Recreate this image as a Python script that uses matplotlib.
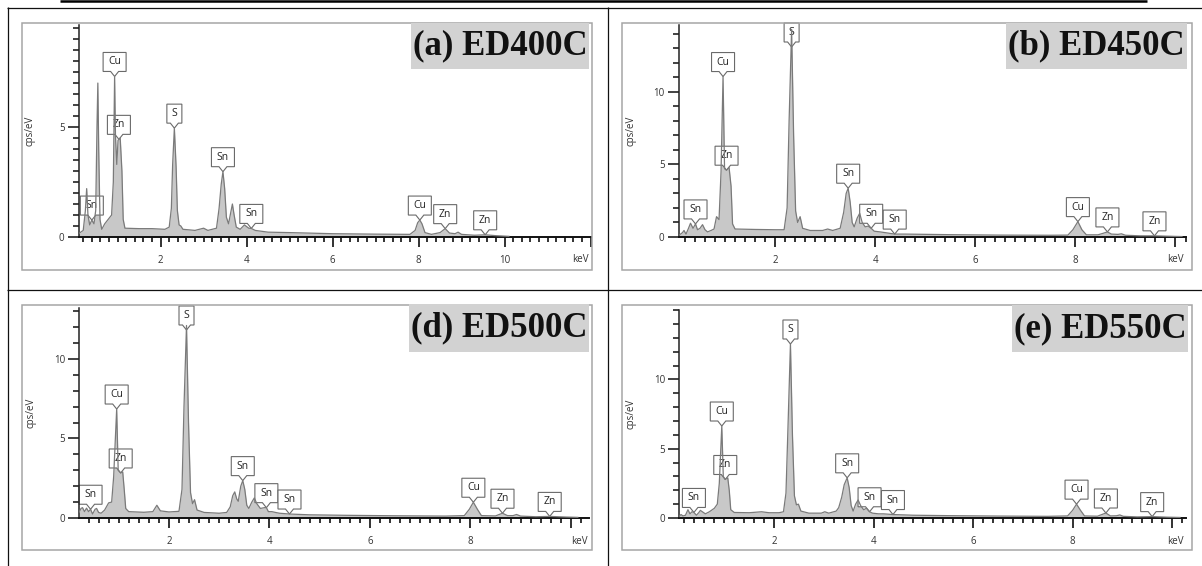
import numpy as np
import matplotlib
matplotlib.use("Agg")
import matplotlib.pyplot as plt
from matplotlib import transforms as mtrans
from matplotlib.patches import Rectangle, Polygon
from matplotlib.lines import Line2D
from matplotlib.ticker import MultipleLocator, FixedLocator, FuncFormatter

W, H = 1202, 566

# ---------------- data ----------------
titles = ["(a) ED400C", "(b) ED450C", "(d) ED500C", "(e) ED550C"]

energy_a = [0.09, 0.20, 0.25, 0.28, 0.31, 0.35, 0.40, 0.45, 0.49, 0.52, 0.54, 0.56, 0.59, 0.63, 0.70,
            0.78, 0.86, 0.90, 0.93, 0.95, 0.98, 1.01, 1.06, 1.10, 1.13, 1.17, 1.5, 1.8, 2.1, 2.20,
            2.25, 2.28, 2.32, 2.36, 2.39, 2.43, 2.47, 2.52, 2.8, 3.0, 3.1, 3.3, 3.36, 3.41, 3.45,
            3.49, 3.53, 3.58, 3.63, 3.67, 3.71, 3.76, 3.85, 3.95, 4.05, 4.11, 4.2, 4.5, 5.0, 6.0,
            7.0, 7.8, 7.92, 7.98, 8.03, 8.08, 8.15, 8.3, 8.50, 8.62, 8.72, 8.85, 8.92, 9.0, 9.3,
            9.55, 9.8, 10.1]
cps_a = [0.15, 0.3, 1.2, 2.2, 1.0, 0.55, 0.77, 0.6, 1.2, 5.0, 7.0, 4.0, 0.8, 0.35, 0.6,
         0.8, 1.0, 2.5, 7.3, 4.6, 3.3, 4.4, 4.5, 3.0, 0.8, 0.4, 0.38, 0.38, 0.35, 0.45,
         1.3, 3.3, 4.95, 3.2, 1.2, 0.55, 0.5, 0.35, 0.3, 0.4, 0.3, 0.4, 1.3, 2.4, 2.97,
         2.2, 0.9, 0.6, 1.1, 1.5, 1.0, 0.45, 0.35, 0.55, 0.4, 0.39, 0.3, 0.22, 0.2, 0.15,
         0.13, 0.12, 0.3, 0.65, 0.77, 0.6, 0.2, 0.12, 0.2, 0.38, 0.18, 0.15, 0.22, 0.12, 0.08,
         0.1, 0.06, 0.03]

energy_b = [0.07, 0.15, 0.18, 0.22, 0.27, 0.31, 0.36, 0.41, 0.45, 0.50, 0.55, 0.60, 0.65, 0.72, 0.78,
            0.83, 0.88, 0.92, 0.96, 0.99, 1.03, 1.08, 1.12, 1.15, 1.20, 1.6, 2.0, 2.18, 2.24, 2.28,
            2.33, 2.37, 2.41, 2.45, 2.50, 2.55, 2.7, 2.95, 3.05, 3.15, 3.3, 3.37, 3.42, 3.46, 3.50,
            3.54, 3.58, 3.64, 3.69, 3.74, 3.80, 3.86, 3.92, 3.98, 4.1, 4.2, 4.39, 4.6, 5.5, 6.5,
            7.5, 7.85, 7.95, 8.05, 8.13, 8.22, 8.45, 8.55, 8.64, 8.72, 8.85, 8.92, 9.0, 9.3, 9.58,
            9.9, 10.13]
cps_b = [0.1, 0.3, 0.45, 0.2, 0.6, 0.95, 0.6, 0.9, 0.5, 0.6, 0.85, 0.5, 0.35, 0.45, 0.55,
         1.4, 1.2, 4.5, 11.05, 4.7, 4.6, 4.8, 3.5, 0.9, 0.55, 0.52, 0.5, 0.5, 2.0, 8.0,
         14.3, 7.0, 1.8, 1.0, 1.4, 0.6, 0.45, 0.45, 0.55, 0.45, 0.6, 1.7, 3.0, 3.36, 2.4,
         1.0, 0.7, 1.3, 1.63, 1.0, 0.7, 0.75, 0.6, 0.4, 0.35, 0.3, 0.2, 0.2, 0.16, 0.13,
         0.12, 0.13, 0.5, 1.06, 0.5, 0.15, 0.15, 0.25, 0.35, 0.2, 0.18, 0.22, 0.12, 0.08, 0.08,
         0.05, 0.03]

energy_d = [0.21, 0.25, 0.28, 0.32, 0.36, 0.40, 0.44, 0.48, 0.53, 0.56, 0.60, 0.65, 0.72, 0.80, 0.86,
            0.90, 0.96, 0.99, 1.04, 1.08, 1.11, 1.14, 1.2, 1.5, 1.68, 1.76, 1.83, 2.0, 2.2, 2.26,
            2.30, 2.35, 2.39, 2.43, 2.47, 2.51, 2.56, 2.7, 3.0, 3.15, 3.22, 3.27, 3.31, 3.35, 3.38,
            3.43, 3.47, 3.51, 3.55, 3.59, 3.65, 3.70, 3.75, 3.82, 3.90, 3.94, 3.98, 4.05, 4.12, 4.20,
            4.40, 4.8, 5.5, 6.5, 7.5, 7.88, 7.98, 8.06, 8.14, 8.22, 8.5, 8.64, 8.74, 8.85, 8.92,
            9.0, 9.3, 9.58, 9.9, 10.14]
cps_d = [0.35, 0.6, 0.65, 0.4, 0.62, 0.4, 0.55, 0.25, 0.55, 0.6, 0.35, 0.3, 0.5, 0.95, 1.0,
         2.6, 6.85, 3.0, 2.83, 2.9, 1.8, 0.6, 0.4, 0.36, 0.4, 0.8, 0.45, 0.38, 0.42, 1.8,
         7.0, 12.1, 6.0, 1.6, 0.9, 1.15, 0.5, 0.35, 0.3, 0.35, 0.7, 1.4, 1.64, 1.2, 1.05,
         2.0, 2.35, 1.8, 0.8, 0.6, 1.0, 1.26, 0.9, 0.6, 0.65, 0.65, 0.4, 0.4, 0.35, 0.3,
         0.25, 0.2, 0.17, 0.14, 0.12, 0.15, 0.55, 0.99, 0.55, 0.15, 0.13, 0.3, 0.15, 0.15, 0.22,
         0.12, 0.08, 0.1, 0.06, 0.04]

energy_e = [0.09, 0.13, 0.17, 0.22, 0.27, 0.31, 0.35, 0.39, 0.44, 0.49, 0.52, 0.56, 0.62, 0.70, 0.80,
            0.86, 0.90, 0.95, 0.98, 1.02, 1.07, 1.10, 1.13, 1.2, 1.5, 1.75, 1.9, 2.1, 2.19, 2.24,
            2.28, 2.33, 2.37, 2.41, 2.45, 2.49, 2.54, 2.7, 2.95, 3.02, 3.1, 3.25, 3.30, 3.36, 3.41,
            3.47, 3.51, 3.55, 3.59, 3.64, 3.69, 3.74, 3.80, 3.86, 3.92, 3.98, 4.1, 4.2, 4.39, 4.8,
            5.5, 6.5, 7.5, 7.9, 8.0, 8.08, 8.16, 8.24, 8.5, 8.67, 8.76, 8.88, 8.95, 9.02, 9.3,
            9.60, 9.9, 10.16]
cps_e = [0.1, 0.25, 0.15, 0.2, 0.6, 0.3, 0.45, 0.4, 0.2, 0.4, 0.55, 0.45, 0.3, 0.45, 0.7,
         1.0, 2.5, 6.64, 3.0, 2.78, 2.9, 2.0, 0.6, 0.4, 0.38, 0.45, 0.38, 0.38, 0.45, 1.8,
         6.5, 12.56, 6.0, 1.6, 0.95, 1.0, 0.5, 0.35, 0.35, 0.45, 0.35, 0.5, 0.75, 1.5, 2.4,
         2.9, 2.2, 0.9, 0.5, 1.0, 1.3, 0.9, 0.6, 0.7, 0.45, 0.35, 0.3, 0.3, 0.25, 0.2,
         0.17, 0.14, 0.12, 0.15, 0.55, 1.0, 0.55, 0.15, 0.13, 0.36, 0.15, 0.16, 0.22, 0.12, 0.08,
         0.1, 0.06, 0.04]

peaks_a = ["Sn", "Cu", "Zn", "S", "Sn", "Sn", "Cu", "Zn", "Zn"]
peak_kev_a = [0.40, 0.93, 1.03, 2.32, 3.45, 4.11, 8.03, 8.62, 9.55]
peaks_b = ["Sn", "Cu", "Zn", "S", "Sn", "Sn", "Sn", "Cu", "Zn", "Zn"]
peak_kev_b = [0.41, 0.96, 1.03, 2.33, 3.46, 3.92, 4.39, 8.05, 8.64, 9.58]
peaks_d = ["Sn", "Cu", "Zn", "S", "Sn", "Sn", "Sn", "Cu", "Zn", "Zn"]
peak_kev_d = [0.44, 0.96, 1.04, 2.35, 3.47, 3.94, 4.40, 8.06, 8.64, 9.58]
peaks_e = ["Sn", "Cu", "Zn", "S", "Sn", "Sn", "Sn", "Cu", "Zn", "Zn"]
peak_kev_e = [0.39, 0.95, 1.02, 2.33, 3.47, 3.92, 4.39, 8.08, 8.67, 9.60]

# ---------------- layout (pixels) ----------------
panels = [
    dict(E=energy_a, C=cps_a, pk=peaks_a, pkE=peak_kev_a, title=titles[0],
         ax=(78.5, 25, 590.5, 237), xlim=(0.09, 12.0), ytop=9.64, ystep=0.5,
         ymajor=[0, 5], xlab=[2, 4, 6, 8, 10], frame=(22, 23, 592, 270), tbox=(411, 23, 589, 69)),
    dict(E=energy_b, C=cps_b, pk=peaks_b, pkE=peak_kev_b, title=titles[1],
         ax=(678.5, 25, 1185.5, 237), xlim=(0.07, 10.2), ytop=14.6, ystep=1,
         ymajor=[0, 5, 10], xlab=[2, 4, 6, 8], frame=(622, 23, 1192, 270), tbox=(1006, 23, 1187, 69)),
    dict(E=energy_d, C=cps_d, pk=peaks_d, pkE=peak_kev_d, title=titles[2],
         ax=(79, 308, 589.4, 518), xlim=(0.21, 10.37), ytop=13.2, ystep=1,
         ymajor=[0, 5, 10], xlab=[2, 4, 6, 8], frame=(22, 305, 592, 550), tbox=(409, 304, 589, 352)),
    dict(E=energy_e, C=cps_e, pk=peaks_e, pkE=peak_kev_e, title=titles[3],
         ax=(679, 309.5, 1185.5, 518), xlim=(0.09, 10.27), ytop=15.05, ystep=1,
         ymajor=[0, 5, 10], xlab=[2, 4, 6, 8], frame=(622, 305, 1192, 550), tbox=(1012, 305, 1188, 352)),
]

fig = plt.figure(figsize=(W / 100, H / 100), dpi=100)


def rect_fig(x0, y0, x1, y1):
    return [x0 / W, 1 - y1 / H, (x1 - x0) / W, (y1 - y0) / H]


# table lines
def fline(x0, y0, x1, y1, lw, color="#111111"):
    fig.add_artist(Line2D([x0 / W, x1 / W], [1 - y0 / H, 1 - y1 / H], lw=lw, color=color,
                          transform=fig.transFigure, solid_capstyle="butt"))


fline(60, 1.2, 1147, 1.2, 1.8, "#000000")
fline(7, 7.5, W, 7.5, 0.9)
fline(7, 290, W, 290, 0.9)
fline(7.5, 7, 7.5, H, 0.9)
fline(607.5, 7, 607.5, H, 0.9)

TICK_FONT = dict(family="Open Sans", size=7, color="#333333")

for p in panels:
    # frame
    fx = rect_fig(*p["frame"])
    fig.add_artist(Rectangle((fx[0], fx[1]), fx[2], fx[3], transform=fig.transFigure,
                             fill=False, edgecolor="#a6a6a6", lw=1.1))
    ax = fig.add_axes(rect_fig(*p["ax"]))
    ax.set_facecolor("none")
    ax_w = p["ax"][2] - p["ax"][0]
    ax_h = p["ax"][3] - p["ax"][1]
    E = np.array(p["E"])
    C = np.array(p["C"])
    ax.fill_between(E, 0, C, color="#c8c8c8", lw=0, zorder=1)
    ax.plot(E, C, color="#7a7a7a", lw=0.9, zorder=3)
    ax.set_xlim(*p["xlim"])
    ax.set_ylim(0, p["ytop"])
    for s in ("top", "right"):
        ax.spines[s].set_visible(False)
    ax.spines["left"].set_color("#222222")
    ax.spines["left"].set_linewidth(1.1)
    ax.spines["bottom"].set_color("#111111")
    ax.spines["bottom"].set_linewidth(1.4)

    ax.xaxis.set_major_locator(MultipleLocator(2))
    ax.xaxis.set_minor_locator(MultipleLocator(0.2))
    xl = p["xlab"]
    ax.xaxis.set_major_formatter(FuncFormatter(
        lambda v, pos, xl=xl: ("%d" % round(v)) if any(abs(v - q) < 1e-6 for q in xl) else ""))
    ax.yaxis.set_major_locator(FixedLocator(p["ymajor"]))
    ax.yaxis.set_minor_locator(MultipleLocator(p["ystep"]))
    ax.yaxis.set_major_formatter(FuncFormatter(lambda v, pos: "%d" % round(v)))
    ax.tick_params(axis="x", which="major", length=7.2, width=1.3, color="#222222", pad=5.5,
                   labelsize=TICK_FONT["size"], labelcolor=TICK_FONT["color"])
    ax.tick_params(axis="x", which="minor", length=3.8, width=1.3, color="#222222")
    ax.tick_params(axis="y", which="major", length=8, width=1.2, color="#222222", pad=2,
                   labelsize=TICK_FONT["size"], labelcolor=TICK_FONT["color"])
    ax.tick_params(axis="y", which="minor", length=4.5, width=1.2, color="#222222")
    for lab in ax.get_xticklabels() + ax.get_yticklabels():
        lab.set_fontfamily(TICK_FONT["family"])
    ax.set_ylabel("cps/eV", fontfamily="Open Sans", fontsize=7, color="#333333")
    ax.yaxis.set_label_coords(-42.5 / ax_w, 0.5)
    ax.annotate("keV", xy=(1, 0), xycoords="axes fraction", xytext=(-1.5, -23),
                textcoords="offset pixels", ha="right", va="center",
                fontfamily="Open Sans", fontsize=7, color="#333333")

    # peak labels (white box above the fill, below the spectrum line)
    ppu = ax_h / p["ytop"]
    for name, ek in zip(p["pk"], p["pkE"]):
        tip = min(float(np.interp(ek, E, C)), p["ytop"] - 22 / ppu)
        w = 15 if len(name) == 1 else 23
        h = 19
        tr = mtrans.Affine2D() + mtrans.ScaledTranslation(ek, tip, ax.transData)
        verts = [(0, 0), (4, 5), (w / 2, 5), (w / 2, 5 + h), (-w / 2, 5 + h), (-w / 2, 5), (-4, 5)]
        ax.add_patch(Polygon(verts, closed=True, transform=tr, facecolor="white",
                             edgecolor="#6a6a6a", lw=0.8, zorder=2, clip_on=False))
        ax.text(0, 5 + h / 2, name, transform=tr, ha="center", va="center",
                fontfamily="Open Sans", fontsize=7.5, color="#222222", zorder=2.5, clip_on=False)

    # title box
    tb = rect_fig(*p["tbox"])
    fig.add_artist(Rectangle((tb[0], tb[1]), tb[2], tb[3], transform=fig.transFigure,
                             facecolor="#d2d2d2", edgecolor="none"))
    fig.text(tb[0] + tb[2] / 2, tb[1] + tb[3] / 2, p["title"], ha="center", va="center",
             fontfamily="Liberation Serif", fontweight="bold", fontsize=25, color="#111111")

fig.savefig("out.png", dpi=100)
